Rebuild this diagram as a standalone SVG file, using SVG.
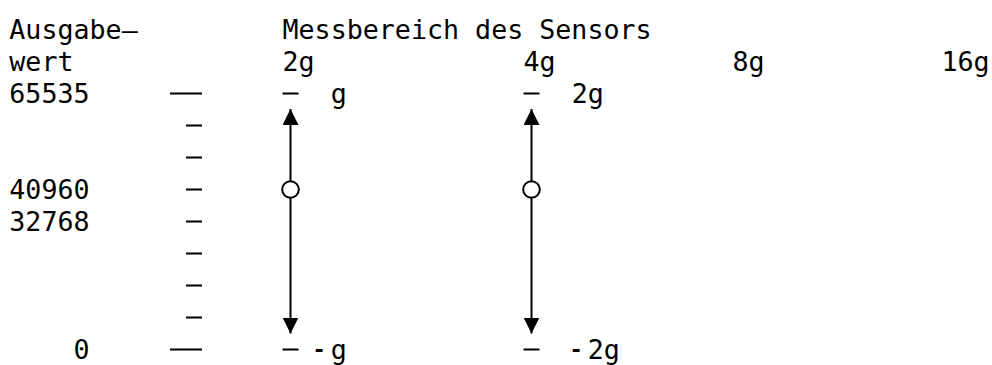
<svg xmlns="http://www.w3.org/2000/svg" width="992" height="365" viewBox="0 0 992 365">
  <style>
    text { font-family: "DejaVu Sans Mono", "Liberation Mono", monospace; font-size: 26.67px; fill: #000; }
    .neg { font-weight: bold; font-size: 22px; }
    .tick { stroke: #000; stroke-width: 2; }
    .axis { stroke: #000; stroke-width: 2; fill: none; }
    .mid { fill: #fff; stroke: #000; stroke-width: 2; }
  </style>
  <defs>
    <marker id="head" viewBox="0 0 16 16" refX="16" refY="8" markerWidth="16" markerHeight="16" markerUnits="userSpaceOnUse" orient="auto">
      <path d="M0,0 L16,8 L0,16 z" fill="#000"/>
    </marker>
  </defs>

  <rect width="992" height="365" fill="#fff"/>

  <!-- headings -->
  <g id="headings">
    <text x="9.3" y="38.5">Ausgabe—</text>
    <text x="9.3" y="70.5">wert</text>
    <text x="282.5" y="38.5">Messbereich des Sensors</text>
  </g>

  <!-- measuring ranges -->
  <g id="ranges">
    <text x="282.5" y="70.5">2g</text>
    <text x="523.5" y="70.5">4g</text>
    <text x="732.5" y="70.5">8g</text>
    <text x="941.4" y="70.5">16g</text>
  </g>

  <!-- output values -->
  <g id="values">
    <text x="9.3" y="102.5">65535</text>
    <text x="9.3" y="198.5">40960</text>
    <text x="9.3" y="230.5">32768</text>
    <text x="73.6" y="358.5">0</text>
  </g>

  <!-- value scale ticks -->
  <g id="scale">
    <line class="tick" x1="170" y1="93.5" x2="202" y2="93.5"/>
    <line class="tick" x1="186" y1="125.5" x2="202" y2="125.5"/>
    <line class="tick" x1="186" y1="157.5" x2="202" y2="157.5"/>
    <line class="tick" x1="186" y1="189.5" x2="202" y2="189.5"/>
    <line class="tick" x1="186" y1="221.5" x2="202" y2="221.5"/>
    <line class="tick" x1="186" y1="253.5" x2="202" y2="253.5"/>
    <line class="tick" x1="186" y1="285.5" x2="202" y2="285.5"/>
    <line class="tick" x1="186" y1="317.5" x2="202" y2="317.5"/>
    <line class="tick" x1="170" y1="349.5" x2="202" y2="349.5"/>
  </g>

  <!-- 2g range -->
  <g id="range-2g">
    <line class="tick" x1="282.5" y1="93.5" x2="298.5" y2="93.5"/>
    <text x="330.7" y="102.5">g</text>
    <line class="tick" x1="282.5" y1="349.5" x2="298.5" y2="349.5"/>
    <text class="neg" x="312.4" y="356.5">-</text>
    <text x="330.7" y="358.5">g</text>
  </g>

  <!-- 4g range -->
  <g id="range-4g">
    <line class="tick" x1="523.5" y1="93.5" x2="539.5" y2="93.5"/>
    <text x="571.8" y="102.5">2g</text>
    <line class="tick" x1="523.5" y1="349.5" x2="539.5" y2="349.5"/>
    <text class="neg" x="569.4" y="356.5">-</text>
    <text x="587.8" y="358.5">2g</text>
  </g>

  <!-- span arrows with zero-point circles -->
  <g id="connectors">
    <path class="axis" d="M290.5,181.2 L290.5,109" marker-end="url(#head)"/>
    <path class="axis" d="M290.5,197.8 L290.5,333.5" marker-end="url(#head)"/>
    <circle class="mid" cx="290.5" cy="189.5" r="8.3"/>
    <path class="axis" d="M531.5,181.2 L531.5,109" marker-end="url(#head)"/>
    <path class="axis" d="M531.5,197.8 L531.5,333.5" marker-end="url(#head)"/>
    <circle class="mid" cx="531.5" cy="189.5" r="8.3"/>
  </g>
</svg>
